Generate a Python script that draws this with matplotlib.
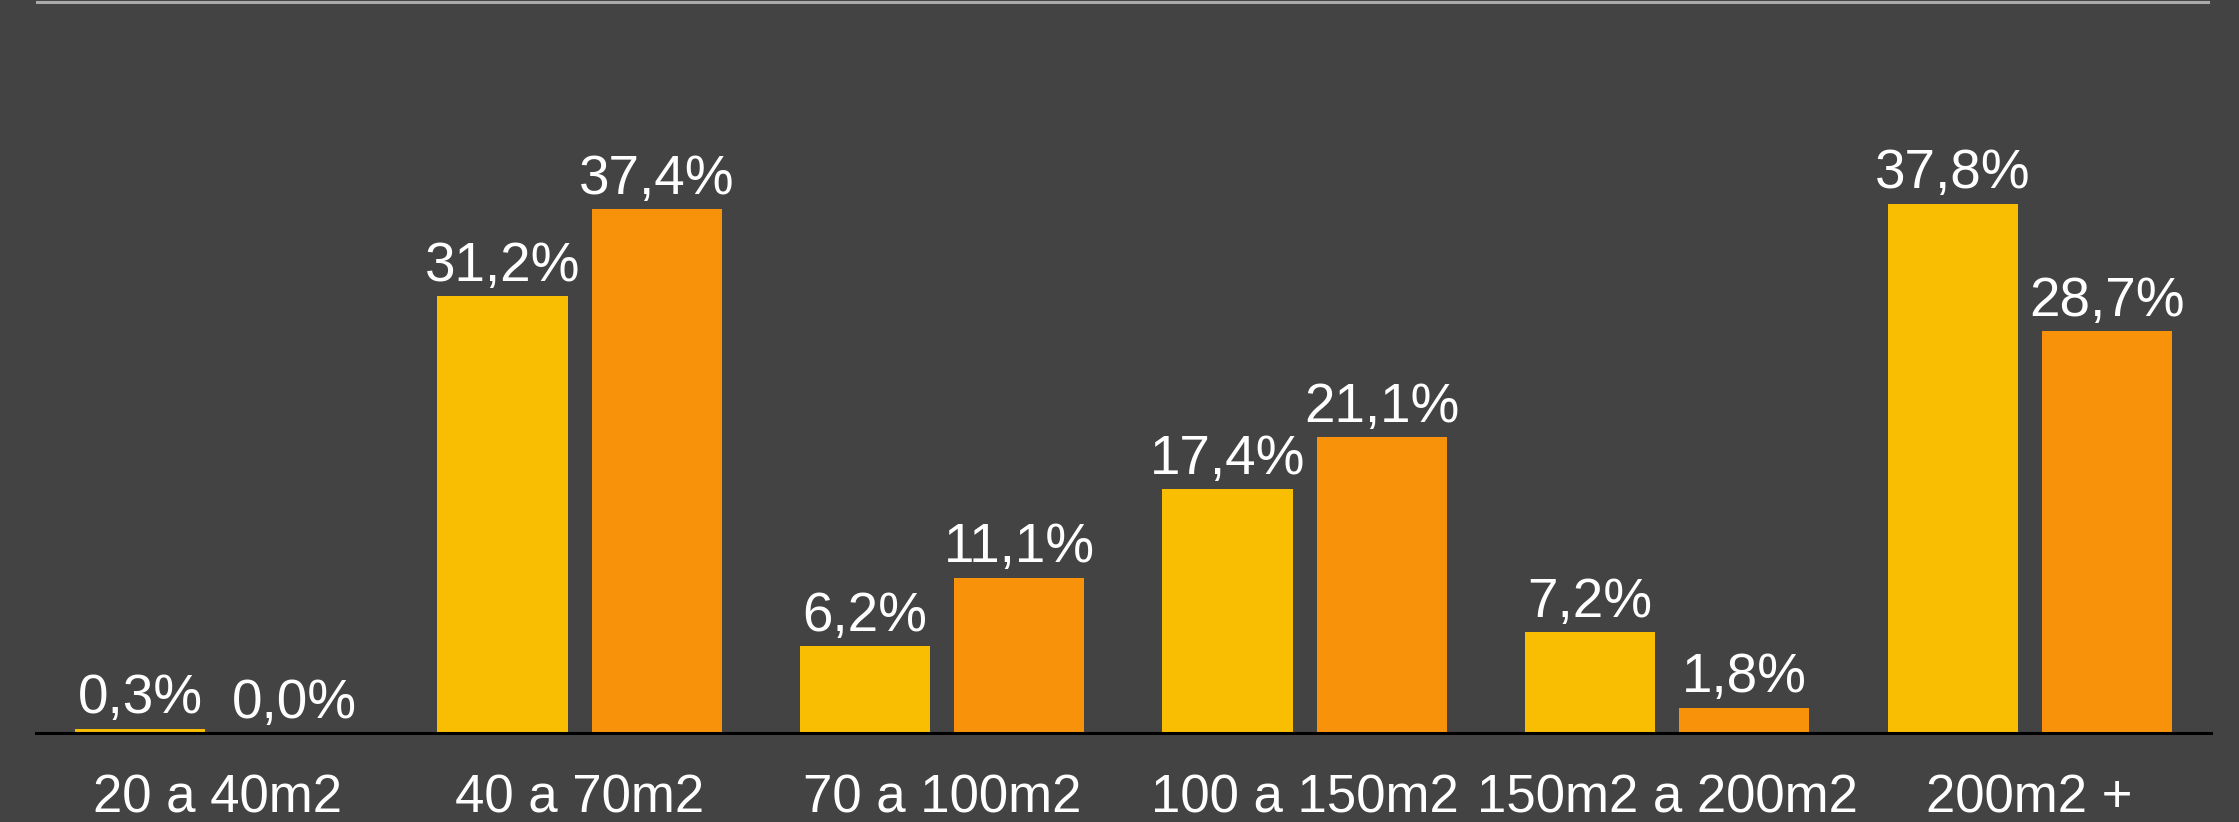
import matplotlib
matplotlib.use("Agg")
import matplotlib.pyplot as plt
from matplotlib.lines import Line2D
import numpy as np

categories = ["20 a 40m2", "40 a 70m2", "70 a 100m2", "100 a 150m2", "150m2 a 200m2", "200m2 +"]
series_a = [0.3, 31.2, 6.2, 17.4, 7.2, 37.8]
series_b = [0.0, 37.4, 11.1, 21.1, 1.8, 28.7]

BG = "#434343"
YELLOW = "#F9BE02"
ORANGE = "#F7920A"

plt.rcParams['font.family'] = ['Liberation Sans', 'DejaVu Sans']

fig = plt.figure(figsize=(22.39, 8.22), dpi=100, facecolor=BG)
ax = fig.add_axes([0.016, 0.1083, 0.9715, 0.852])
ax.set_facecolor(BG)

x = np.arange(len(categories))
w = 0.359
off = 0.2128
bars_a = ax.bar(x - off, series_a, w, color=YELLOW, zorder=2)
bars_b = ax.bar(x + off, series_b, w, color=ORANGE, zorder=2)

def fmt(v):
    return f"{v:.1f}".replace(".", ",") + "%"

for bars, vals in ((bars_a, series_a), (bars_b, series_b)):
    for b, v in zip(bars, vals):
        ax.annotate(fmt(v), (b.get_x() + b.get_width() / 2, v),
                    xytext=(0, 11), textcoords="offset points",
                    ha="center", va="baseline", color="white", fontsize=39.5)

ax.set_xlim(-0.5, 5.5)
ax.set_ylim(0, 50)
ax.set_xticks(x)
ax.set_xticklabels(categories, fontsize=38, color="white")
ax.tick_params(axis="x", length=0, pad=29)
ax.set_yticks([])
for s in ("top", "left", "right"):
    ax.spines[s].set_visible(False)
ax.spines["bottom"].set_color("black")
ax.spines["bottom"].set_linewidth(2.2)
ax.spines["bottom"].set_zorder(3)

fig.add_artist(Line2D([37 / 2239, 2208 / 2239], [1 - 2.5 / 822, 1 - 2.5 / 822],
                      transform=fig.transFigure, color="#AAAAAA", linewidth=2.2))

fig.savefig("out.png", dpi=100, facecolor=BG)
